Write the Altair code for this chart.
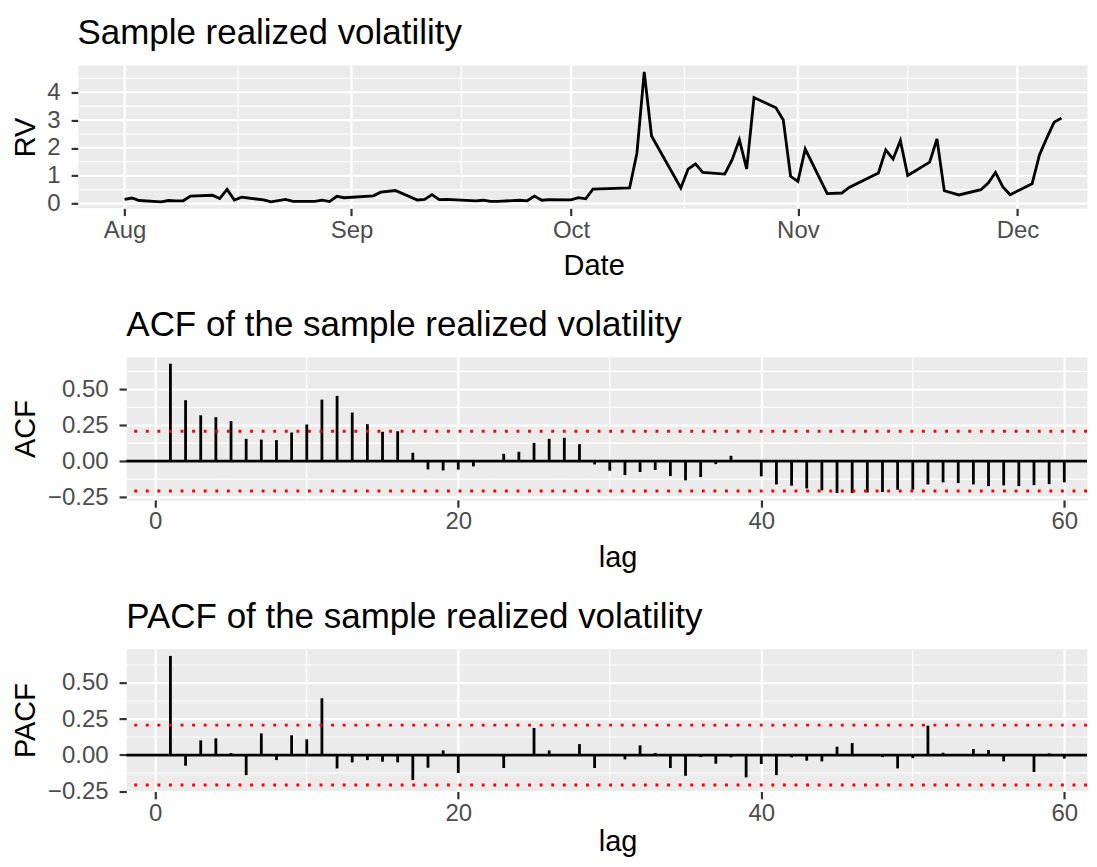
import altair as alt
import pandas as pd

FONT = "Liberation Sans"

# ---------------- Panel 1: sample realized volatility ----------------
rv_dates = [
    "2018/08/01", "2018/08/02", "2018/08/03", "2018/08/06", "2018/08/07", "2018/08/08",
    "2018/08/09", "2018/08/10", "2018/08/13", "2018/08/14", "2018/08/15", "2018/08/16",
    "2018/08/17", "2018/08/20", "2018/08/21", "2018/08/23", "2018/08/24", "2018/08/27",
    "2018/08/28", "2018/08/29", "2018/08/30", "2018/08/31", "2018/09/04", "2018/09/05",
    "2018/09/07", "2018/09/10", "2018/09/11", "2018/09/12", "2018/09/13", "2018/09/14",
    "2018/09/18", "2018/09/19", "2018/09/20", "2018/09/21", "2018/09/24", "2018/09/25",
    "2018/09/26", "2018/09/27", "2018/09/28", "2018/10/01", "2018/10/02", "2018/10/03",
    "2018/10/04", "2018/10/09", "2018/10/10", "2018/10/11", "2018/10/12", "2018/10/16",
    "2018/10/17", "2018/10/18", "2018/10/19", "2018/10/22", "2018/10/23", "2018/10/24",
    "2018/10/25", "2018/10/26", "2018/10/29", "2018/10/30", "2018/10/31", "2018/11/01",
    "2018/11/02", "2018/11/05", "2018/11/07", "2018/11/08", "2018/11/12", "2018/11/13",
    "2018/11/14", "2018/11/15", "2018/11/16", "2018/11/19", "2018/11/20", "2018/11/21",
    "2018/11/23", "2018/11/26", "2018/11/27", "2018/11/28", "2018/11/29", "2018/11/30",
    "2018/12/03", "2018/12/04", "2018/12/05", "2018/12/06", "2018/12/07",
]
rv_values = [
    0.15, 0.20, 0.11, 0.06, 0.11, 0.10,
    0.10, 0.27, 0.30, 0.18, 0.51, 0.13,
    0.23, 0.13, 0.06, 0.15, 0.08, 0.08,
    0.12, 0.07, 0.26, 0.21, 0.28, 0.41,
    0.47, 0.13, 0.15, 0.32, 0.14, 0.15,
    0.10, 0.12, 0.08, 0.08, 0.12, 0.10,
    0.27, 0.12, 0.14, 0.13, 0.21, 0.17,
    0.52, 0.56, 1.81, 4.73, 2.43, 0.56,
    1.24, 1.43, 1.12, 1.06, 1.57, 2.29,
    1.25, 3.81, 3.44, 3.00, 0.98, 0.80,
    1.96, 0.36, 0.38, 0.58, 1.10, 1.93,
    1.60, 2.26, 1.01, 1.49, 2.32, 0.46,
    0.31, 0.50, 0.74, 1.12, 0.60, 0.32,
    0.71, 1.75, 2.35, 2.92, 3.07,
]
rv_y_ticks = [0, 1, 2, 3, 4]
rv_y_minor = [0.5, 1.5, 2.5, 3.5, 4.5]
rv_x_major = ["2018/08/01", "2018/09/01", "2018/10/01", "2018/11/01", "2018/12/01"]
rv_x_minor = ["2018/08/16 12:00", "2018/09/16 00:00", "2018/10/16 12:00", "2018/11/16 00:00"]
month_ticks = [(2018, 8), (2018, 9), (2018, 10), (2018, 11), (2018, 12)]

# ---------------- Panels 2 & 3: ACF / PACF ----------------
lags = list(range(1, 61))
acf_values = [
    0.678, 0.424, 0.319, 0.306, 0.278, 0.155, 0.150, 0.146, 0.199, 0.255,
    0.428, 0.454, 0.338, 0.257, 0.204, 0.208, 0.058, -0.058, -0.065, -0.059,
    -0.037, 0.005, 0.051, 0.065, 0.127, 0.155, 0.162, 0.118, -0.023, -0.067,
    -0.097, -0.076, -0.062, -0.104, -0.134, -0.111, -0.021, 0.037, -0.004, -0.106,
    -0.162, -0.171, -0.190, -0.204, -0.222, -0.222, -0.218, -0.215, -0.199, -0.199,
    -0.162, -0.148, -0.153, -0.162, -0.174, -0.169, -0.174, -0.167, -0.160, -0.148,
]
pacf_values = [
    0.688, -0.074, 0.102, 0.116, 0.014, -0.139, 0.150, -0.035, 0.137, 0.109,
    0.394, -0.093, -0.051, -0.035, -0.046, -0.051, -0.174, -0.088, 0.032, -0.125,
    0.007, -0.003, -0.090, 0.002, 0.188, 0.032, 0.007, 0.076, -0.090, 0.003,
    -0.030, 0.067, 0.014, -0.090, -0.144, -0.014, -0.060, -0.016, -0.155, -0.062,
    -0.139, -0.016, -0.039, -0.044, 0.058, 0.083, 0.002, -0.014, -0.093, -0.021,
    0.204, 0.016, 0.002, 0.042, 0.035, -0.044, -0.002, -0.118, 0.012, -0.025,
]
conf_bounds = [0.208, -0.208]
zero_line = [0.0]
lag_ticks = [0, 20, 40, 60]
lag_minor = [10, 30, 50]
cf_y_ticks = [-0.25, 0.0, 0.25, 0.5]
cf_y_minor = [-0.125, 0.125, 0.375, 0.625]

# ---------------- styling ----------------
LINE_W = 2.8
MAJOR_W = 2.2
MINOR_W = 1.1
PANEL_H = 143
PANEL_W = 962
LEFT_EXTRA = 48   # panel 1 data area extends further left than the ACF panels
GREY = "#EBEBEB"

# ---------------- Panel 1 ----------------
rv_df = pd.DataFrame({"Date": rv_dates, "RV": rv_values})
x_min = alt.DateTime(year=2018, month=7, date=25, hours=16, minutes=30)
x_max = alt.DateTime(year=2018, month=12, date=10, hours=12)
y1_min, y1_max = -0.17, 4.96
xs1 = alt.Scale(domain=[x_min, x_max], range=[-LEFT_EXTRA, PANEL_W])
ys1 = alt.Scale(domain=[y1_min, y1_max], nice=False, zero=False)
ax1x = alt.Axis(title="Date", format="%b", labelFlush=False, labelOverlap=False, grid=False,
                titleX=468,
                values=[alt.DateTime(year=y, month=m, date=1) for (y, m) in month_ticks])
ax1y = alt.Axis(title="RV", values=rv_y_ticks, format="d", grid=False, offset=LEFT_EXTRA)

p1_bg = alt.Chart(pd.DataFrame({"panel": ["bg"]})).mark_rect(color=GREY).encode(
    x=alt.X(datum=x_min, type="temporal", scale=xs1, axis=ax1x),
    x2=alt.X2(datum=x_max),
    y=alt.Y(datum=y1_min, type="quantitative", scale=ys1, axis=ax1y),
    y2=alt.Y2(datum=y1_max),
)


def hgrid(values, width):
    return alt.Chart(pd.DataFrame({"RV": values})).mark_rule(
        color="white", strokeWidth=width).encode(
        x=alt.X(datum=x_min, type="temporal", scale=xs1, axis=ax1x),
        x2=alt.X2(datum=x_max),
        y=alt.Y("RV:Q", scale=ys1, axis=ax1y),
    )


def vgrid(values, width):
    return alt.Chart(pd.DataFrame({"Date": values})).mark_rule(
        color="white", strokeWidth=width).encode(
        x=alt.X("Date:T", scale=xs1, axis=ax1x))


p1_line = alt.Chart(rv_df).mark_line(color="black", strokeWidth=LINE_W).encode(
    x=alt.X("Date:T", scale=xs1, axis=ax1x),
    y=alt.Y("RV:Q", scale=ys1, axis=ax1y),
)
p1 = alt.layer(
    p1_bg, hgrid(rv_y_minor, MINOR_W), vgrid(rv_x_minor, MINOR_W),
    hgrid(rv_y_ticks, MAJOR_W), vgrid(rv_x_major, MAJOR_W), p1_line,
).properties(
    width=PANEL_W, height=PANEL_H,
    title=alt.Title("Sample realized volatility", anchor="start", frame="group", dx=-49),
)


def cf_panel(values, name, title, ydom, title_pad):
    df = pd.DataFrame({"lag": lags, "v": values})
    xs = alt.Scale(domain=[-1.91, 61.5], nice=False, zero=False)
    ys = alt.Scale(domain=ydom, nice=False, zero=False)
    ax = alt.Axis(title="lag", values=lag_ticks, format="d", labelFlush=False, titleX=492,
                  titlePadding=title_pad)
    ay = alt.Axis(title=name, values=cf_y_ticks, format=".2f")
    minor_x = alt.Chart(pd.DataFrame({"lag": lag_minor})).mark_rule(
        color="white", strokeWidth=MINOR_W).encode(x=alt.X("lag:Q", scale=xs, axis=ax))
    minor_y = alt.Chart(pd.DataFrame({"v": cf_y_minor})).mark_rule(
        color="white", strokeWidth=MINOR_W).encode(y=alt.Y("v:Q", scale=ys, axis=ay))
    bars = alt.Chart(df).mark_rule(color="black", strokeWidth=LINE_W, strokeCap="butt").encode(
        x=alt.X("lag:Q", scale=xs, axis=ax),
        y=alt.Y("v:Q", scale=ys, axis=ay),
        y2=alt.datum(0),
    )
    zero = alt.Chart(pd.DataFrame({"v": zero_line})).mark_rule(
        color="black", strokeWidth=LINE_W).encode(y=alt.Y("v:Q", scale=ys, axis=ay))
    conf = alt.Chart(pd.DataFrame({"v": conf_bounds})).mark_rule(
        color="#FF0000", strokeWidth=2.9, strokeDash=[2.9, 8.7], strokeCap="butt"
    ).encode(y=alt.Y("v:Q", scale=ys, axis=ay))
    return alt.layer(minor_x, minor_y, bars, zero, conf).properties(
        width=PANEL_W, height=PANEL_H,
        title=alt.Title(title, anchor="start", frame="group"))


p2 = cf_panel(acf_values, "ACF", "ACF of the sample realized volatility", [-0.27, 0.724], 9.4)
p3 = cf_panel(pacf_values, "PACF", "PACF of the sample realized volatility", [-0.253, 0.738], 2.5)

chart = alt.concat(p1, p2, p3, columns=1, spacing=26).properties(
    padding={"left": 2.5, "top": 6, "right": -47, "bottom": 0},
    background="white",
).configure_view(
    fill=GREY, stroke="transparent"
).configure_axis(
    labelFont=FONT, labelFontSize=24, labelColor="#4D4D4D",
    titleFont=FONT, titleFontSize=29, titleColor="black", titleFontWeight="normal",
    tickColor="#333333", tickWidth=MAJOR_W, tickSize=7.3, domain=False,
    grid=True, gridColor="white", gridWidth=MAJOR_W,
).configure_axisX(
    labelPadding=2.7, titlePadding=9.4,
).configure_axisY(
    labelPadding=11, titlePadding=6.5,
).configure_title(
    font=FONT, fontSize=35, fontWeight="normal", color="black", anchor="start", offset=13.65,
)

chart.save("out.html", embed_options={"renderer": "svg", "actions": False})
